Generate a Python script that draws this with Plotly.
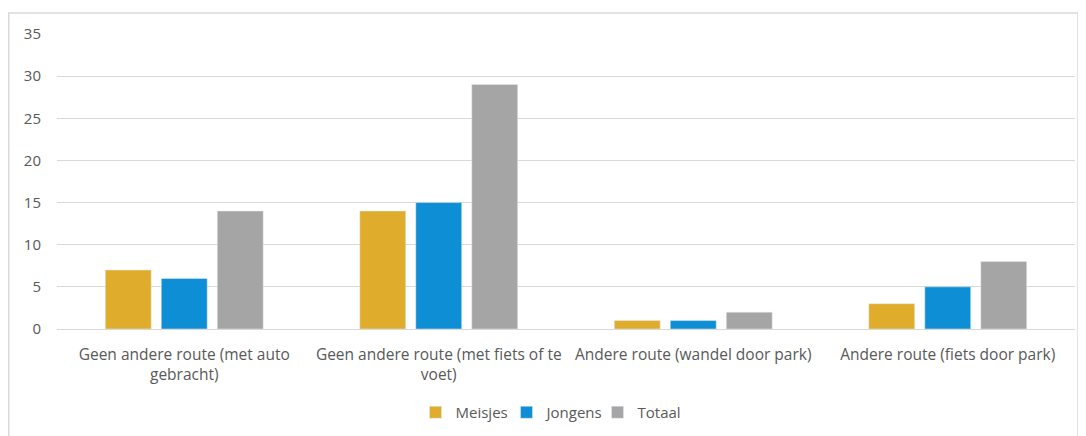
import plotly.graph_objects as go

categories = [
    "Geen andere route (met auto<br>gebracht)",
    "Geen andere route (met fiets of te<br>voet)",
    "Andere route (wandel door park)",
    "Andere route (fiets door park)",
]
meisjes = [7, 14, 1, 3]
jongens = [6, 15, 1, 5]
totaal = [14, 29, 2, 8]

fig = go.Figure(data=[
    go.Bar(x=categories, y=meisjes, name="Meisjes", marker_color="#E0AC2B"),
    go.Bar(x=categories, y=jongens, name="Jongens", marker_color="#0E8FD5"),
    go.Bar(x=categories, y=totaal, name="Totaal", marker_color="#A5A5A5"),
])

# the page puts the figure 8px in from the top-left corner
W, H = 1086, 436
l, r, t, b = 49, 19, 26, 115
pw, ph = W - l - r, H - t - b

fig.update_layout(
    width=W, height=H,
    margin=dict(l=l, r=r, t=t, b=b, autoexpand=False),
    paper_bgcolor="white", plot_bgcolor="white",
    font=dict(family="Open Sans, Liberation Sans, sans-serif", size=15, color="#595959"),
    barmode="group", bargap=0.34, bargroupgap=0.18,
    showlegend=True,
    legend=dict(orientation="h", x=(544 - l) / pw, xanchor="center",
                y=-(404 - 321 - 16) / ph, yanchor="top",
                font=dict(size=15, color="#595959"), itemwidth=30, traceorder="normal",
                entrywidth=46, tracegroupgap=0),
    xaxis=dict(showgrid=False, showline=False, ticks="", tickfont=dict(size=15.5),
               automargin=False, ticklabelstandoff=14),
    yaxis=dict(range=[0, 35], dtick=5, showgrid=True, gridcolor="#D9D9D9", gridwidth=1,
               zeroline=True, zerolinecolor="#D9D9D9", zerolinewidth=1, automargin=False,
               showline=False, ticks="", ticklabelstandoff=15, tickfont=dict(size=15)),
    shapes=[dict(type="rect", xref="paper", yref="paper",
                 x0=(0.75 - l) / pw, x1=(1070 - l) / pw,
                 y0=(H + 10 - t) / -ph + 1, y1=(H - 5 - b) / ph,
                 line=dict(color="#D9D9D9", width=1.5), layer="below")],
)

fig.write_html("out.html")
